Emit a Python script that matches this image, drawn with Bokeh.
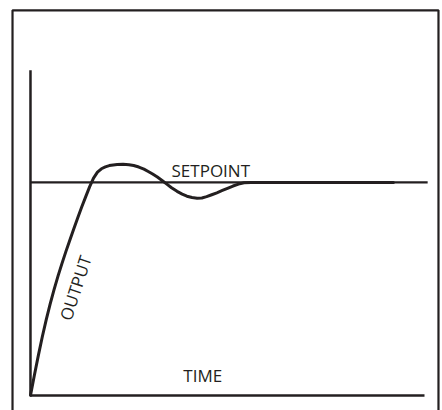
from bokeh.plotting import figure
from bokeh.models import Range1d, BoxAnnotation
from bokeh.core.properties import value
from bokeh.embed import file_html
from bokeh.resources import INLINE

# ---- data (time units, output normalised to setpoint = 1)
time = [0.0, 0.1, 0.2, 0.3, 0.4, 0.5, 0.6, 0.7, 0.8, 0.9, 1.0, 1.1, 1.2, 1.3,
        1.4, 1.5, 1.6, 1.7, 1.8, 1.9, 2.0, 2.1, 2.2, 2.35, 2.5, 2.62, 2.75,
        2.88, 3.0, 3.1, 3.22, 3.34, 3.46, 3.58, 3.72, 3.85, 3.97, 4.1, 4.23,
        4.35, 4.47, 4.6, 4.73, 4.87, 5.0, 5.14, 5.28, 5.42, 5.6, 6.85, 9.21]
output = [0.000, 0.096, 0.188, 0.275, 0.356, 0.430, 0.498, 0.561, 0.620, 0.676,
          0.730, 0.782, 0.834, 0.884, 0.932, 0.979, 1.020, 1.048, 1.064, 1.073,
          1.079, 1.082, 1.084, 1.085, 1.083, 1.079, 1.072, 1.062, 1.050, 1.039,
          1.025, 1.009, 0.992, 0.975, 0.958, 0.945, 0.935, 0.929, 0.926, 0.927,
          0.933, 0.942, 0.951, 0.962, 0.972, 0.983, 0.992, 0.998, 1.0, 1.0, 1.0]
setpoint = 1.0
setpoint_time = [0.0, 10.08]
time_axis = [0.0, 10.0]
output_axis = [0.0, 1.526]
labels = ["SETPOINT", "TIME", "OUTPUT"]

INK = "#231f20"
FONT = value("Open Sans")

p = figure(width=442, height=410, output_backend="svg", toolbar_location=None,
           x_axis_type=None, y_axis_type=None,
           x_range=Range1d(-0.761, 10.457), y_range=Range1d(-0.071, 1.854),
           min_border=0)
p.grid.visible = False
p.outline_line_color = None
p.background_fill_color = "white"
p.border_fill_color = "white"

# frame around the drawing (open at the bottom, runs off the page)
p.add_layout(BoxAnnotation(left=-0.456, right=10.355, top=1.808, bottom=-0.3,
                           fill_alpha=0, line_color=INK, line_alpha=1,
                           line_width=2.2))

# axes
p.line(time_axis, [0, 0], line_color=INK, line_width=2.5)
p.line([0, 0], output_axis, line_color=INK, line_width=2.5)

# setpoint
p.line(setpoint_time, [setpoint, setpoint], line_color=INK, line_width=2.2)

# output response
p.line(time, output, line_color=INK, line_width=3, line_join="round",
       line_cap="round")

# texts
p.text(x=[3.58], y=[1.056], text=[labels[0]], text_font=FONT,
       text_font_size="17px", text_color=INK, text_align="left",
       text_baseline="alphabetic")
p.text(x=[3.88], y=[0.094], text=[labels[1]], text_font=FONT,
       text_font_size="17px", text_color=INK, text_align="left",
       text_baseline="alphabetic")
p.text(x=[1.14], y=[0.505], text=[labels[2]], text_font=FONT,
       text_font_size="17px", text_color=INK, text_align="center",
       text_baseline="middle", angle=1.257)

open("out.html", "w").write(file_html(p, INLINE))
